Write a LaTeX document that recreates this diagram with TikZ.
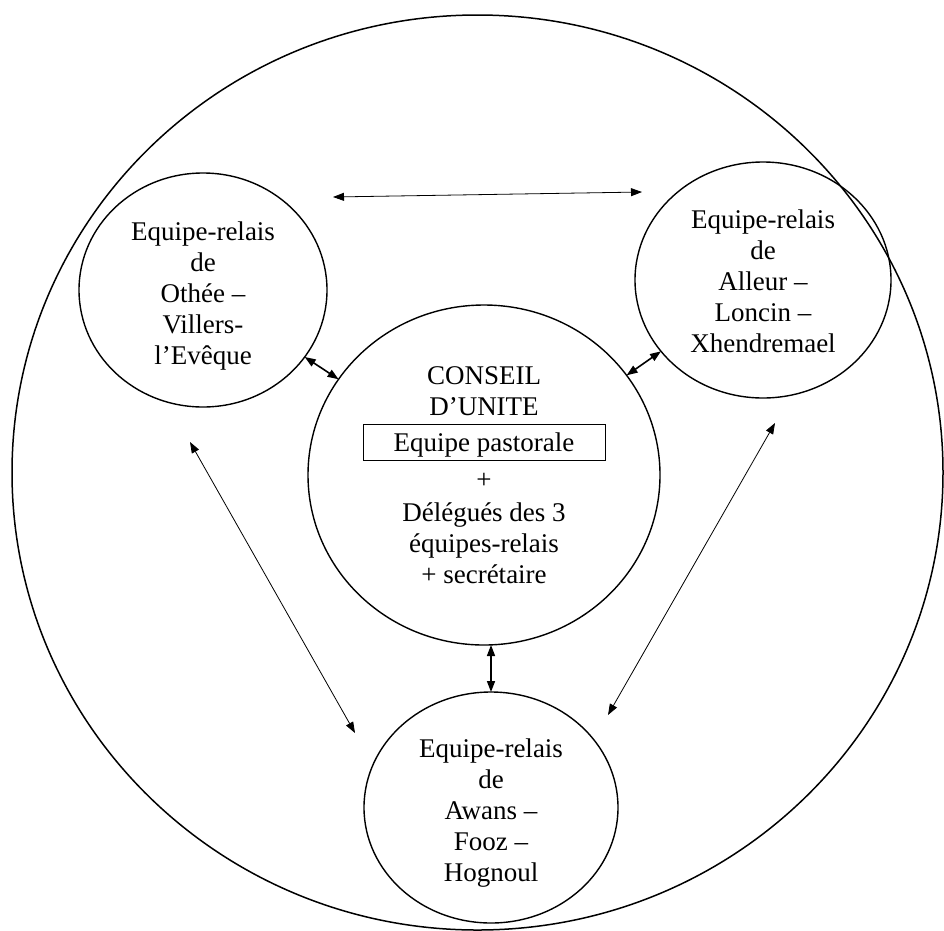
\documentclass[tikz,border=0pt]{standalone}
\usepackage{fontspec}
\setmainfont{Liberation Serif}
\usepackage{tikz}
\usetikzlibrary{arrows.meta,calc,positioning}
\usetikzlibrary{shapes.geometric}
\newcommand{\relaisfont}{\fontsize{27}{31}\selectfont}

\begin{document}
\begin{tikzpicture}[
    x=1pt, y=-1pt,
    nosep/.style={inner sep=0, outer sep=0},
    relais/.style={ellipse, draw, line width=1.4pt, nosep},
    texte/.style={nosep, align=center, font=\relaisfont},
    lien/.style={{Triangle[length=11pt, width=8pt]}-{Triangle[length=11pt, width=8pt]}, line width=0.8pt},
    lienfort/.style={lien, line width=1.6pt}]
\useasboundingbox (0,0) rectangle (944,930);

% cercles
\node[relais, line width=1.5pt, minimum width=931, minimum height=915] (unite) at (477.5,472.5) {};
\node[relais, minimum width=248, minimum height=234] (othee) at (203,290) {};
\node[relais, minimum width=256, minimum height=236] (alleur) at (763,280) {};
\node[relais, minimum width=254, minimum height=231] (awans) at (491,807.5) {};
\node[relais, minimum width=352, minimum height=340] (conseil) at (484,475) {};

% textes des equipes-relais
\node[texte] (othee-txt) at (203,296) {Equipe-relais\\ de\\ Othée –\\ Villers-\\ l’Evêque};
\node[texte] (alleur-txt) at (763,281) {Equipe-relais\\ de\\ Alleur –\\ Loncin –\\ Xhendremael};
\node[texte] (awans-txt) at (491,813) {Equipe-relais\\ de\\ Awans –\\ Fooz –\\ Hognoul};

% conseil d'unite
\node[texte] (titre) at (484,391.5) {CONSEIL\\ D’UNITE};
\node[texte, draw, line width=0.8pt, minimum width=242, minimum height=36, text depth=0pt] (pastorale) at (484,442) {Equipe pastorale};
\node[texte] (plus) at (484,481) {+};
\node[texte] (delegues) at (484,543.5) {Délégués des 3\\ équipes-relais\\ + secrétaire};

% liens
\coordinate (haut-g) at (333,197);
\coordinate (haut-d) at (642,192);
\coordinate (gauche-h) at (190,442);
\coordinate (gauche-b) at (355,733);
\coordinate (droite-h) at (775,423);
\coordinate (droite-b) at (608,715);

\path[draw, lienfort] (othee) -- (conseil);
\path[draw, lienfort] (alleur) -- (conseil);
\path[draw, lienfort] (awans.north) -- (awans.north |- conseil.south);
\path[draw, lien] (haut-g) -- (haut-d);
\path[draw, lien] (gauche-h) -- (gauche-b);
\path[draw, lien] (droite-h) -- (droite-b);

\end{tikzpicture}
\end{document}
